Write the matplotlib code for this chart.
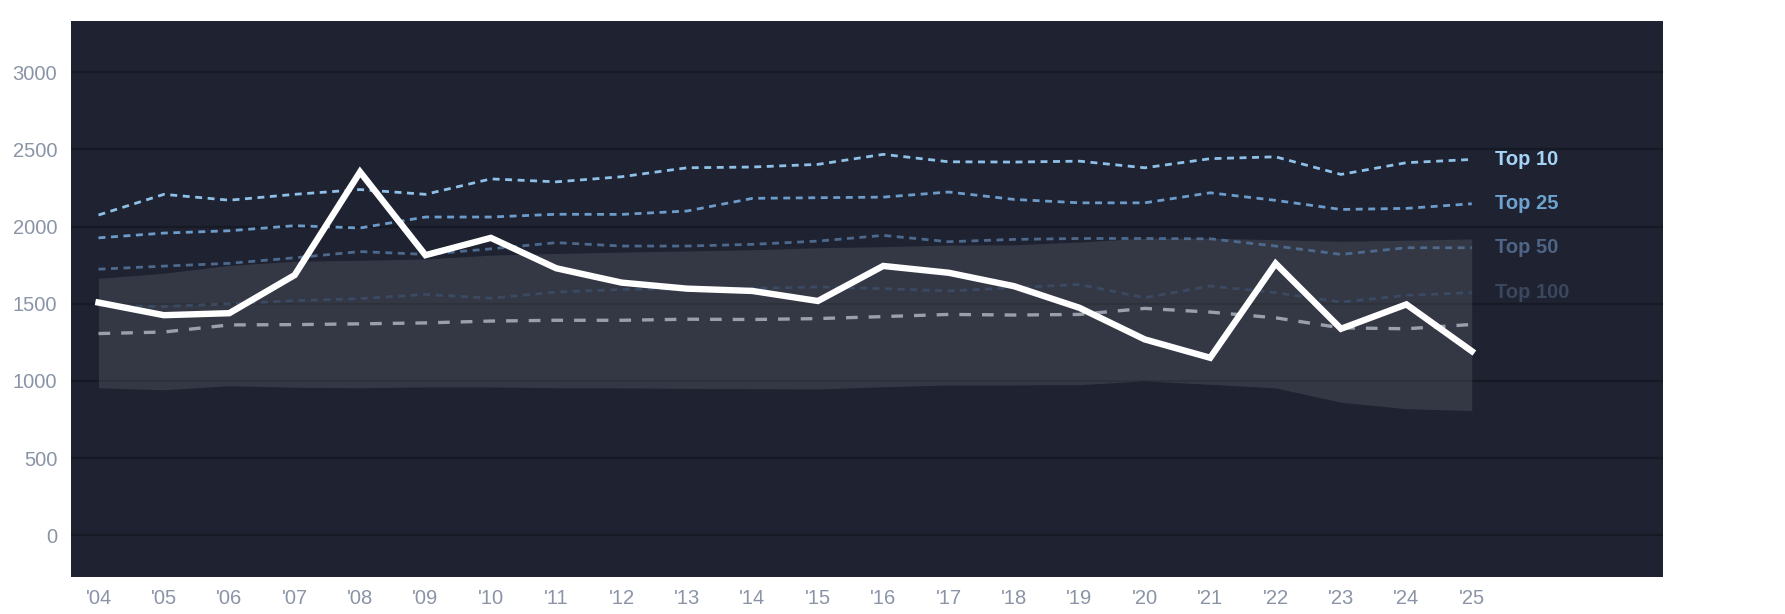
import matplotlib
matplotlib.use("Agg")
import matplotlib.pyplot as plt
import numpy as np

years = ["'04", "'05", "'06", "'07", "'08", "'09", "'10", "'11", "'12", "'13", "'14",
         "'15", "'16", "'17", "'18", "'19", "'20", "'21", "'22", "'23", "'24", "'25"]
main = [1508, 1426, 1439, 1686, 2354, 1815, 1927, 1730, 1637, 1598, 1583,
        1518, 1745, 1701, 1614, 1474, 1269, 1150, 1761, 1338, 1496, 1193]
top10 = [2075, 2209, 2171, 2209, 2240, 2209, 2309, 2290, 2323, 2381, 2386,
         2403, 2468, 2420, 2418, 2424, 2381, 2440, 2452, 2338, 2414, 2435]
top25 = [1927, 1958, 1973, 2006, 1991, 2062, 2062, 2080, 2079, 2101, 2183,
         2187, 2191, 2224, 2176, 2154, 2154, 2219, 2170, 2111, 2118, 2148]
top50 = [1724, 1744, 1762, 1798, 1838, 1820, 1856, 1896, 1874, 1874, 1885,
         1906, 1943, 1902, 1917, 1923, 1923, 1921, 1874, 1820, 1863, 1863]
top100 = [1490, 1482, 1500, 1520, 1533, 1561, 1536, 1576, 1593, 1595, 1600,
          1609, 1598, 1583, 1604, 1625, 1539, 1615, 1572, 1511, 1555, 1572]
median = [1307, 1317, 1363, 1365, 1370, 1376, 1388, 1393, 1393, 1400, 1398,
          1404, 1417, 1431, 1427, 1431, 1470, 1446, 1409, 1344, 1338, 1366]
band_hi = [1665, 1698, 1749, 1775, 1782, 1790, 1815, 1826, 1835, 1842, 1850,
           1863, 1870, 1880, 1882, 1900, 1925, 1925, 1915, 1905, 1912, 1920]
band_lo = [956, 943, 969, 959, 956, 961, 961, 956, 955, 952, 950,
           948, 962, 974, 974, 976, 1000, 978, 955, 862, 820, 808]
yticks = [0, 500, 1000, 1500, 2000, 2500, 3000]
tier_names = ["Top 10", "Top 25", "Top 50", "Top 100"]

plt.rcParams['font.family'] = ['Liberation Sans', 'DejaVu Sans']

fig = plt.figure(figsize=(17.85, 6.14), dpi=100, facecolor='white')
ax = fig.add_axes([0.0398, 0.0608, 0.8917, 0.905])
ax.set_facecolor('#1e2231')

x = np.arange(len(years))

for yv in yticks:
    ax.axhline(yv, color='#161a24', lw=1.6, zorder=1)

ax.fill_between(x, band_lo, band_hi, color='#ffffff', alpha=0.1, lw=0, zorder=2)

line_cols = ['#8fc1e8', '#6d9ccb', '#4d6a8e', '#3b4a63']
label_cols = ['#a6d4f7', '#6ea3d0', '#4e6585', '#3a475d']
series = [top10, top25, top50, top100]
for s, c in zip(series, line_cols):
    ax.plot(x, s, color=c, lw=2.0, dashes=(2.5, 2.0), zorder=3)

ax.plot(x, median, color='#9aa0ab', lw=2.4, dashes=(3.5, 3.3), zorder=4)
ax.plot(x, main, color='white', lw=4.6, solid_joinstyle='miter', zorder=5)

for name, s, c in zip(tier_names, series, label_cols):
    ax.text(21.35, s[-1], name, color=c, fontsize=14.5, fontweight='bold',
            ha='left', va='center', zorder=6)

ax.set_xlim(-0.42, 23.92)
ax.set_ylim(-268, 3332)
ax.set_xticks(x)
ax.set_xticklabels(years)
ax.set_yticks(yticks)
ax.set_yticklabels([str(v) for v in yticks])
ax.tick_params(axis='both', length=0, labelsize=14.5, colors='#8a94a6')
ax.tick_params(axis='y', pad=10)
ax.tick_params(axis='x', pad=9)
for sp in ax.spines.values():
    sp.set_visible(False)

fig.savefig('out.png', dpi=100, facecolor='white')
